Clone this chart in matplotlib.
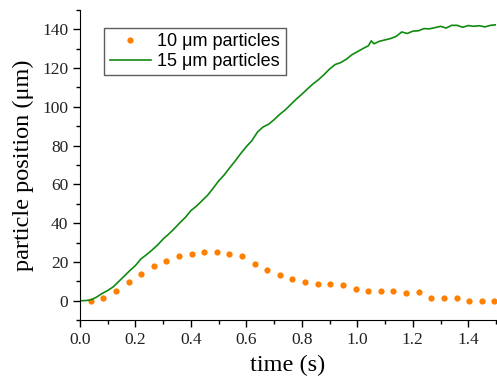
import matplotlib
matplotlib.use("Agg")
import matplotlib.pyplot as plt
from matplotlib.ticker import MultipleLocator

# 10 um particles (dots)
t10 = [0.038, 0.084, 0.129, 0.175, 0.220, 0.266, 0.311, 0.357, 0.402, 0.448,
       0.493, 0.539, 0.584, 0.630, 0.675, 0.721, 0.766, 0.812, 0.857, 0.903,
       0.948, 0.994, 1.039, 1.085, 1.130, 1.176, 1.221, 1.267, 1.312, 1.358,
       1.403, 1.449, 1.494]
y10 = [0.0, 1.4, 4.8, 9.5, 13.6, 18.1, 20.5, 23.2, 24.3, 25.0,
       25.0, 23.9, 23.0, 19.1, 15.7, 13.4, 11.3, 9.5, 8.4, 8.4,
       7.9, 5.9, 4.8, 4.8, 4.8, 4.1, 4.3, 1.2, 1.2, 1.2,
       0.0, 0.0, 0.0]

# 15 um particles (line)
t15 = [0.00, 0.02, 0.04, 0.06, 0.08, 0.10, 0.12, 0.14, 0.16, 0.18,
       0.20, 0.22, 0.24, 0.26, 0.28, 0.30, 0.32, 0.34, 0.36, 0.38,
       0.40, 0.42, 0.44, 0.46, 0.48, 0.50, 0.52, 0.54, 0.56, 0.58,
       0.60, 0.62, 0.64, 0.66, 0.68, 0.70, 0.72, 0.74, 0.76, 0.78,
       0.80, 0.82, 0.84, 0.86, 0.88, 0.90, 0.92, 0.94, 0.96, 0.98,
       1.00, 1.02, 1.04, 1.05, 1.06, 1.08, 1.10, 1.12, 1.14, 1.16,
       1.18, 1.20, 1.22, 1.24, 1.26, 1.28, 1.30, 1.32, 1.34, 1.36,
       1.38, 1.40, 1.42, 1.44, 1.46, 1.48, 1.50]
y15 = [0.0, 0.1, 0.5, 1.9, 3.8, 5.3, 7.2, 10.0, 12.8, 15.6,
       18.2, 21.6, 23.8, 26.2, 28.8, 31.9, 34.4, 37.2, 40.2, 43.0,
       46.5, 48.8, 51.6, 54.4, 58.0, 61.8, 64.9, 68.6, 72.2, 76.0,
       79.5, 82.6, 87.0, 89.6, 91.0, 93.4, 96.1, 98.4, 101.2, 104.0,
       106.5, 109.2, 111.8, 114.0, 116.6, 119.5, 121.8, 122.8, 124.5, 126.8,
       128.4, 130.0, 131.5, 134.0, 132.5, 133.8, 134.5, 135.2, 136.3, 138.6,
       137.8, 139.0, 139.2, 140.3, 140.2, 140.8, 141.5, 140.6, 142.0, 142.0,
       141.0, 141.9, 141.5, 141.8, 141.2, 142.0, 142.3]

serif = ['Liberation Serif', 'DejaVu Serif']
sans = ['Liberation Sans', 'DejaVu Sans']

fig = plt.figure(figsize=(4.97, 3.78), dpi=100)
ax = fig.add_axes([0.161, 0.153, 0.837, 0.821])

ax.plot(t10, y10, 'o', color='#ff8000', markersize=4.5, markeredgewidth=0,
        label='10 μm particles')
ax.plot(t15, y15, '-', color='#108a10', linewidth=1.2, label='15 μm particles')

ax.set_xlim(0, 1.5)
ax.set_ylim(-10, 150)
ax.xaxis.set_major_locator(MultipleLocator(0.2))
ax.xaxis.set_minor_locator(MultipleLocator(0.1))
ax.yaxis.set_major_locator(MultipleLocator(20))
ax.yaxis.set_minor_locator(MultipleLocator(10))

for s in ['top', 'right']:
    ax.spines[s].set_visible(False)
ax.tick_params(which='major', direction='out', length=5, width=1)
ax.tick_params(which='minor', direction='out', length=3, width=1)

ax.set_xticks([0.0, 0.2, 0.4, 0.6, 0.8, 1.0, 1.2, 1.4])
ax.set_xticklabels(['0.0', '0.2', '0.4', '0.6', '0.8', '1.0', '1.2', '1.4'])
for lab in ax.get_xticklabels() + ax.get_yticklabels():
    lab.set_family(serif)
    lab.set_fontsize(12.5)
    lab.set_color('#222222')

ax.set_xlabel('time (s)', family=serif, fontsize=17.5, labelpad=5)
ax.set_ylabel('particle position (μm)', family=serif, fontsize=17.5, labelpad=6)

leg = ax.legend(loc='upper left', bbox_to_anchor=(0.058, 0.942),
                prop={'family': sans, 'size': 13}, frameon=True,
                fancybox=False, handlelength=2.3, borderpad=0.3,
                labelspacing=0.15, handletextpad=0.35, numpoints=1,
                borderaxespad=0)
leg.get_frame().set_edgecolor('#333333')
leg.get_frame().set_linewidth(1.0)

fig.savefig('out.png', dpi=100)
